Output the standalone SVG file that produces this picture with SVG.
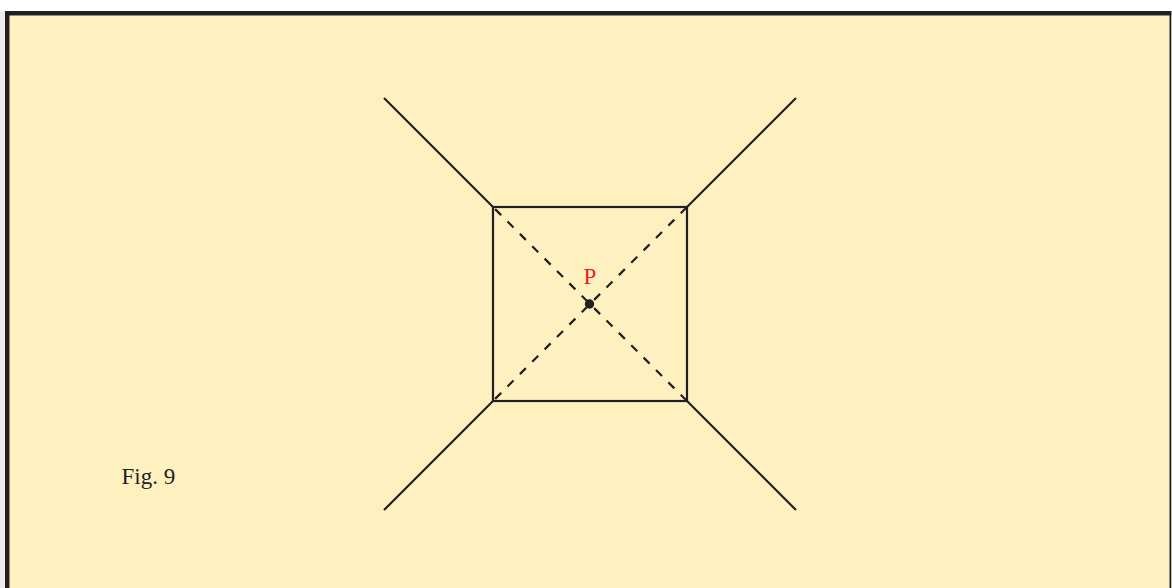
<svg xmlns="http://www.w3.org/2000/svg" width="1172" height="588" viewBox="0 0 1172 588">
<style>
.ln{stroke:#231f20;stroke-width:2.2;fill:none;stroke-linecap:butt}
.dash{stroke:#231f20;stroke-width:2.2;fill:none;stroke-dasharray:8.5 9;stroke-dashoffset:14.5}
.lbl{font-family:"Liberation Serif","Times New Roman",serif;font-size:23px}
</style>
<rect x="0" y="0" width="1172" height="588" fill="#ffffff"/>
<rect x="0" y="11" width="5" height="577" fill="#ececec"/>
<rect x="9.5" y="15.5" width="1160" height="573" fill="#fff0c0"/>
<g id="frame" fill="#231f20">
<rect x="5" y="11" width="4.5" height="577"/>
<rect x="5" y="11" width="1166.3" height="4.5"/>
<rect x="1169.5" y="11" width="1.8" height="577"/>
</g>
<g id="connectors">
<line class="ln" x1="493" y1="207" x2="384" y2="98"/>
<line class="ln" x1="687" y1="207" x2="796" y2="98"/>
<line class="ln" x1="493" y1="401" x2="384" y2="510"/>
<line class="ln" x1="687" y1="401" x2="796" y2="510"/>
<line class="dash" x1="493" y1="207" x2="687" y2="401"/>
<line class="dash" x1="493" y1="401" x2="687" y2="207"/>
</g>
<g id="square">
<rect class="ln" x="493" y="207" width="194" height="194"/>
</g>
<g id="point-P">
<circle cx="589.5" cy="304" r="4.7" fill="#231f20"/>
<text class="lbl" x="590" y="283.5" text-anchor="middle" fill="#ed1c24">P</text>
</g>
<g id="caption">
<text class="lbl" x="121.5" y="483.7" fill="#231f20">Fig. 9</text>
</g>
</svg>
